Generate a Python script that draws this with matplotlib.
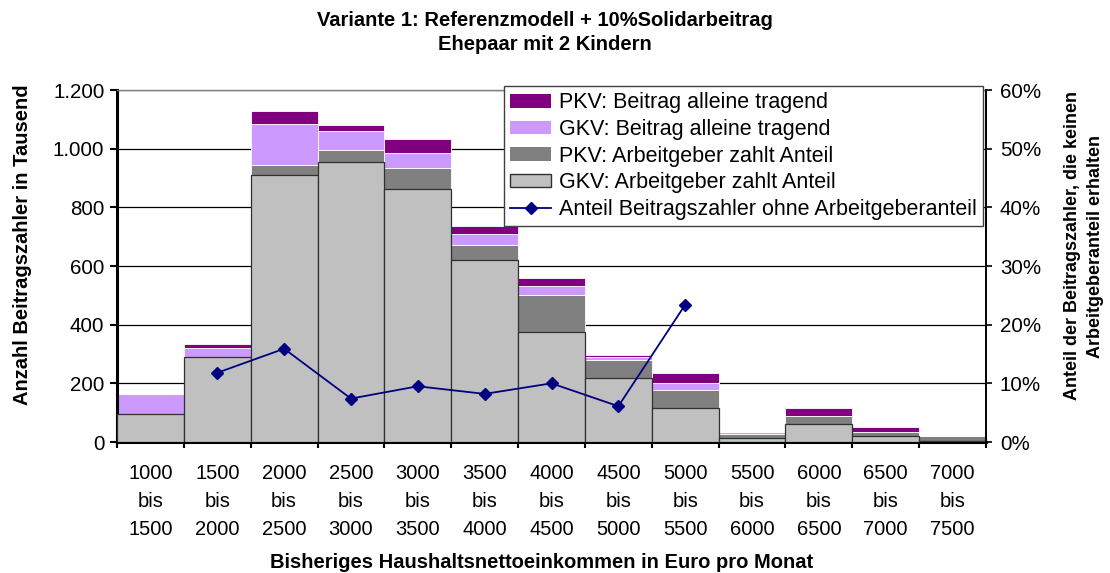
import matplotlib
matplotlib.use("Agg")
import matplotlib.pyplot as plt
import numpy as np
from matplotlib.ticker import FuncFormatter, FixedLocator
from matplotlib.patches import Patch
from matplotlib.lines import Line2D

plt.rcParams['font.family'] = ['Liberation Sans', 'DejaVu Sans']

categories = ["1000\nbis\n1500", "1500\nbis\n2000", "2000\nbis\n2500", "2500\nbis\n3000",
              "3000\nbis\n3500", "3500\nbis\n4000", "4000\nbis\n4500", "4500\nbis\n5000",
              "5000\nbis\n5500", "5500\nbis\n6000", "6000\nbis\n6500", "6500\nbis\n7000",
              "7000\nbis\n7500"]

gkv_ag = [94, 290, 909, 956, 863, 621, 374, 218, 115, 13, 60, 22, 3]
pkv_ag = [2, 0, 35, 40, 71, 51, 127, 63, 63, 15, 30, 13, 17]
gkv_allein = [68, 30, 141, 64, 51, 37, 31, 9, 23, 7, 0, 0, 0]
pkv_allein = [0, 14, 43, 21, 48, 28, 27, 7, 34, 0, 26, 16, 0]

anteil = [np.nan, 11.8, 15.9, 7.4, 9.5, 8.2, 10.0, 6.1, 23.4, np.nan, np.nan, np.nan, np.nan]

c_pkv_allein = "#800080"
c_gkv_allein = "#CC99FF"
c_pkv_ag = "#808080"
c_gkv_ag = "#C0C0C0"
c_line = "#000080"

W, H = 1110, 573
fig = plt.figure(figsize=(W / 100, H / 100), dpi=100)
ax = fig.add_axes([117 / W, 1 - 442 / H, (986 - 117) / W, (442 - 90) / H])

x = np.arange(len(categories))
b1 = np.array(gkv_ag, float)
b2 = b1 + np.array(pkv_ag, float)
b3 = b2 + np.array(gkv_allein, float)

ax.bar(x, gkv_ag, width=1.0, color=c_gkv_ag, edgecolor="#303030", linewidth=0.9, zorder=3)
ax.bar(x, pkv_ag, width=1.0, bottom=b1, color=c_pkv_ag, edgecolor="white", linewidth=0.6, zorder=2)
ax.bar(x, gkv_allein, width=1.0, bottom=b2, color=c_gkv_allein, edgecolor="white", linewidth=0.6, zorder=2)
ax.bar(x, pkv_allein, width=1.0, bottom=b3, color=c_pkv_allein, edgecolor="white", linewidth=0.6, zorder=2)

ax.set_xlim(-0.5, len(categories) - 0.5)
ax.set_ylim(0, 1200)
ax.set_yticks(np.arange(0, 1201, 200))
ax.yaxis.set_major_formatter(FuncFormatter(lambda v, p: f"{int(v):,}".replace(",", ".")))
ax.grid(axis="y", color="black", linewidth=0.9, zorder=0)
ax.set_axisbelow(True)

ax.xaxis.set_major_locator(FixedLocator(np.arange(-0.5, len(categories), 1.0)))
ax.xaxis.set_major_formatter(FuncFormatter(lambda v, p: ""))
ax.xaxis.set_minor_locator(FixedLocator(x))
ax.set_xticklabels(categories, minor=True)
ax.tick_params(axis="x", which="minor", length=0, pad=15.5, labelsize=14.5)
ax.tick_params(axis="x", which="major", direction="inout", length=8, width=1.5)
ax.tick_params(axis="y", direction="out", length=5, width=1.5, labelsize=14.8, pad=4)
for lab in ax.get_xticklabels(minor=True):
    lab.set_linespacing(1.6)

for s in ["left", "bottom"]:
    ax.spines[s].set_linewidth(2.2)
    ax.spines[s].set_color("black")
ax.spines["top"].set_color("#808080")
ax.spines["top"].set_linewidth(1.0)
ax.spines["right"].set_visible(False)

ax2 = ax.twinx()
ax2.set_ylim(0, 60)
ax2.set_yticks(np.arange(0, 61, 10))
ax2.yaxis.set_major_formatter(FuncFormatter(lambda v, p: f"{int(v)}%"))
ax2.plot(x, anteil, color=c_line, linewidth=1.3, marker="D", markersize=6.5, zorder=5)
ax2.tick_params(axis="y", direction="out", length=4, width=1.2, labelsize=14.8, pad=6)
ax2.spines["right"].set_linewidth(1.4)
for s in ["left", "bottom", "top"]:
    ax2.spines[s].set_visible(False)

fig.text(23 / W, 1 - 245 / H, "Anzahl Beitragszahler in Tausend", rotation=90,
         ha="center", va="center", fontsize=14.5, fontweight="bold")
fig.text(1084 / W, 1 - 246 / H, "Anteil der Beitragszahler, die keinen\nArbeitgeberanteil erhalten",
         rotation=90, ha="center", va="center", fontsize=13.0, fontweight="bold",
         linespacing=1.45, multialignment="center")
fig.text(542 / W, 1 - 562 / H, "Bisheriges Haushaltsnettoeinkommen in Euro pro Monat",
         ha="center", va="center", fontsize=14.5, fontweight="bold")

fig.text(545 / W, 1 - 20 / H, "Variante 1: Referenzmodell + 10%Solidarbeitrag",
         ha="center", va="center", fontsize=14.5, fontweight="bold")
fig.text(545 / W, 1 - 45 / H, "Ehepaar mit 2 Kindern",
         ha="center", va="center", fontsize=14.5, fontweight="bold")

handles = [
    Patch(facecolor=c_pkv_allein, edgecolor="none"),
    Patch(facecolor=c_gkv_allein, edgecolor="none"),
    Patch(facecolor=c_pkv_ag, edgecolor="none"),
    Patch(facecolor=c_gkv_ag, edgecolor="#303030", linewidth=1.0),
    Line2D([0], [0], color=c_line, linewidth=1.3, marker="D", markersize=6),
]
labels = ["PKV: Beitrag alleine tragend", "GKV: Beitrag alleine tragend",
          "PKV: Arbeitgeber zahlt Anteil", "GKV: Arbeitgeber zahlt Anteil",
          "Anteil Beitragszahler ohne Arbeitgeberanteil"]
leg = ax2.legend(handles, labels, loc="upper right", bbox_to_anchor=(983 / W, 1 - 86 / H),
                 bbox_transform=fig.transFigure, fontsize=15.5, frameon=True, fancybox=False,
                 edgecolor="#404040", framealpha=1, borderpad=0.3, labelspacing=0.26,
                 handlelength=1.9, handleheight=0.6, handletextpad=0.35, borderaxespad=0)
leg.get_frame().set_linewidth(1.0)
leg.set_zorder(10)

fig.savefig("out.png", dpi=100)
